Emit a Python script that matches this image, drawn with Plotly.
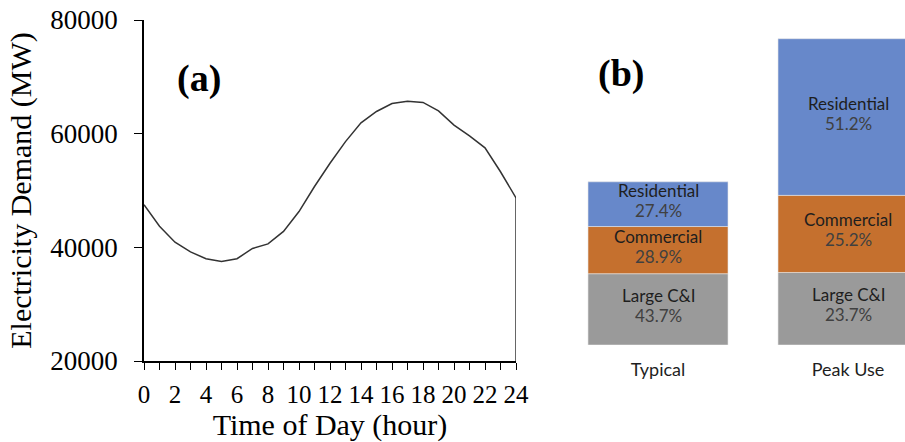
import plotly.graph_objects as go

# ---- Panel (a): hourly electricity demand ----
hours = list(range(25))
demand = [47500, 43700, 40900, 39200, 38000, 37500, 38000, 39800, 40600, 42800,
          46300, 50700, 54800, 58600, 61900, 63900, 65300, 65700, 65500, 64000,
          61500, 59600, 57500, 53300, 48700]
x_tick_vals = list(range(0, 25, 2))
y_tick_vals = [20000, 40000, 60000, 80000]

# ---- Panel (b): demand composition ----
categories = ["Typical", "Peak Use"]
totals_mw = [40000, 75000]
segment_names = ["Large C&I", "Commercial", "Residential"]
segment_pcts = {
    "Large C&I": [43.7, 23.7],
    "Commercial": [28.9, 25.2],
    "Residential": [27.4, 51.2],
}
segment_colors = {"Large C&I": "#9a9a9a", "Commercial": "#c5702e", "Residential": "#6788ca"}

W, H = 905, 442
serif = "Liberation Serif"
sans = "Lato"

fig = go.Figure()

fig.add_trace(go.Scatter(x=hours, y=demand, mode="lines",
                         line=dict(color="#333333", width=1.5),
                         xaxis="x", yaxis="y", showlegend=False))

# drop line at the last hour down to the axis floor
fig.add_shape(type="line", xref="x", yref="y",
              x0=hours[-1], x1=hours[-1], y0=y_tick_vals[0], y1=demand[-1],
              line=dict(color="#333333", width=1.5))

bases = [0.0 for _ in categories]
for name in segment_names:
    vals = [t * p / 100 for t, p in zip(totals_mw, segment_pcts[name])]
    fig.add_trace(go.Bar(x=categories, y=vals, base=bases[:], name=name,
                         marker=dict(color=segment_colors[name], line=dict(width=0.6, color="#e6e6e6")),
                         xaxis="x2", yaxis="y2", showlegend=False, hoverinfo="skip"))
    for i, cat in enumerate(categories):
        mid = bases[i] + vals[i] / 2
        fig.add_annotation(x=cat, y=mid, xref="x2", yref="y2", text=name, showarrow=False,
                           yshift=14, font=dict(family=sans, size=17, color="#1e1e1e"))
        fig.add_annotation(x=cat, y=mid, xref="x2", yref="y2",
                           text=f"{segment_pcts[name][i]:.1f}%", showarrow=False,
                           yshift=-6, font=dict(family=sans, size=17, color="#404040"))
        bases[i] += vals[i]

# panel labels
fig.add_annotation(x=199 / W, y=1 - 78 / H, xref="paper", yref="paper", text="<b>(a)</b>",
                   xanchor="center", yanchor="middle",
                   showarrow=False, font=dict(family=serif, size=38, color="black"))
fig.add_annotation(x=621 / W, y=1 - 74 / H, xref="paper", yref="paper", text="<b>(b)</b>",
                   xanchor="center", yanchor="middle",
                   showarrow=False, font=dict(family=serif, size=38, color="black"))

# pixel-based domains
xa0, xa1 = 144 / W, 516 / W
ya0, ya1 = 1 - 361 / H, 1 - 20 / H
yb0 = 1 - 345 / H
# bar axis range so that 75000 lands at px 39 and 0 at px 345
yb_top = 75000 * 345 / (345 - 39)
px_per_cat = 190.0
xb_lo = 0 - (658 - 560) / px_per_cat
xb_hi = 1 + (905 - 848) / px_per_cat

fig.update_layout(
    width=W, height=H, margin=dict(l=0, r=0, t=0, b=0, autoexpand=False),
    paper_bgcolor="white", plot_bgcolor="white",
    barmode="overlay", bargap=1 - 140 / 190,
    xaxis=dict(domain=[xa0, xa1], range=[0, 24], tickmode="array",
               tickvals=hours, ticktext=[str(h) if h % 2 == 0 else "" for h in hours],
               ticks="outside", ticklen=7, tickwidth=1.3, tickcolor="black",
               showline=True, linecolor="black", linewidth=1.5, showgrid=False, zeroline=False,
               tickfont=dict(family=serif, size=25, color="black"), automargin=False,
               ticklabelstandoff=3,
               title=dict(text="Time of Day (hour)", font=dict(family=serif, size=30, color="black"),
                          standoff=8),
               anchor="y"),
    yaxis=dict(domain=[ya0, ya1], range=[20000, 80000], tickmode="array", tickvals=y_tick_vals,
               ticktext=[str(v) for v in y_tick_vals],
               ticks="outside", ticklen=8, tickwidth=1.3, tickcolor="black",
               showline=True, linecolor="black", linewidth=1.5, showgrid=False, zeroline=False,
               tickfont=dict(family=serif, size=27, color="black"), automargin=False,
               ticklabelstandoff=11,
               title=dict(text="Electricity Demand (MW)", font=dict(family=serif, size=30, color="black"),
                          standoff=10),
               anchor="x"),
    xaxis2=dict(domain=[560 / W, 1.0], range=[xb_lo, xb_hi], showline=False, showgrid=False,
                zeroline=False, ticks="", tickfont=dict(family=sans, size=18, color="#1e1e1e"),
                anchor="y2", ticklabelstandoff=12, automargin=False),
    yaxis2=dict(domain=[yb0, 1.0], range=[0, yb_top], visible=False, anchor="x2", automargin=False),
)

fig.write_html("out.html")
